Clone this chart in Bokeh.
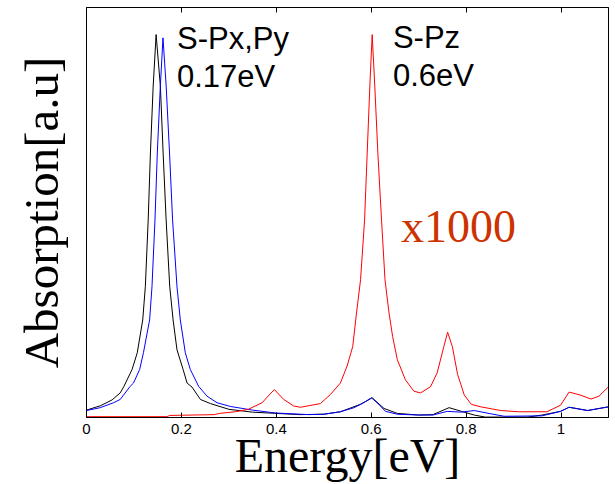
from bokeh.plotting import figure
from bokeh.models import Range1d, LinearAxis, FixedTicker, Label
from bokeh.embed import file_html
from bokeh.resources import INLINE

# ---- data ----
px_energy = [0.0, 0.03, 0.054, 0.071, 0.0785, 0.096, 0.107, 0.1185, 0.124, 0.130, 0.1347,
             0.1404, 0.1467, 0.1558, 0.1615, 0.1678, 0.1754, 0.1825, 0.1907, 0.2036, 0.212,
             0.2225, 0.24, 0.261, 0.30, 0.35, 0.40, 0.45, 0.50, 0.535, 0.577, 0.602, 0.627,
             0.655, 0.70, 0.73, 0.764, 0.79, 0.817, 0.84, 0.93, 0.96, 0.999, 1.017, 1.056, 1.10]
px_abs = [0.018, 0.029, 0.043, 0.060, 0.075, 0.117, 0.158, 0.238, 0.319, 0.482, 0.645,
          0.806, 0.934, 0.806, 0.645, 0.482, 0.319, 0.238, 0.165, 0.117, 0.084,
          0.074, 0.044, 0.034, 0.020, 0.013, 0.010, 0.007, 0.008, 0.014, 0.032, 0.048, 0.022,
          0.010, 0.006, 0.007, 0.024, 0.015, 0.006, 0.001, 0.001, 0.006, 0.015, 0.025, 0.017, 0.026]

py_energy = [0.0, 0.029, 0.057, 0.071, 0.092, 0.099, 0.112, 0.120, 0.133, 0.138, 0.1443,
             0.1492, 0.1555, 0.1612, 0.168, 0.175, 0.1814, 0.1907, 0.1977, 0.2082, 0.2188,
             0.2363, 0.254, 0.275, 0.303, 0.35, 0.398, 0.469, 0.50, 0.535, 0.564, 0.584, 0.6006,
             0.616, 0.630, 0.655, 0.70, 0.73, 0.760, 0.79, 0.817, 0.852, 0.88, 0.96, 0.999,
             1.017, 1.056, 1.10]
py_abs = [0.017, 0.024, 0.036, 0.044, 0.076, 0.084, 0.117, 0.158, 0.238, 0.319, 0.482,
          0.645, 0.806, 0.926, 0.806, 0.645, 0.482, 0.319, 0.238, 0.158, 0.117,
          0.076, 0.052, 0.036, 0.027, 0.018, 0.011, 0.007, 0.008, 0.014, 0.024, 0.036, 0.048,
          0.032, 0.015, 0.008, 0.006, 0.006, 0.015, 0.013, 0.017, 0.009, 0.003, 0.004, 0.015,
          0.025, 0.017, 0.026]

pz_energy = [0.0, 0.17, 0.175, 0.27, 0.28, 0.314, 0.341, 0.37, 0.385, 0.396, 0.4156, 0.4367,
             0.451, 0.493, 0.514, 0.535, 0.549, 0.561, 0.569, 0.5775, 0.586, 0.5915, 0.597,
             0.602, 0.6076, 0.614, 0.6217, 0.629, 0.6375, 0.645, 0.655, 0.672, 0.690, 0.704,
             0.725, 0.739, 0.753, 0.761, 0.771, 0.782, 0.796, 0.811, 0.831, 0.873, 0.91, 0.97,
             0.999, 1.017, 1.04, 1.063, 1.08, 1.10]
pz_abs_x1000 = [0.002, 0.002, 0.005, 0.007, 0.010, 0.014, 0.020, 0.036, 0.055, 0.068, 0.044, 0.028,
                0.025, 0.034, 0.056, 0.084, 0.125, 0.173, 0.255, 0.336, 0.482, 0.645, 0.806,
                0.934, 0.806, 0.645, 0.482, 0.336, 0.255, 0.198, 0.141, 0.092, 0.064, 0.060,
                0.075, 0.109, 0.173, 0.208, 0.173, 0.105, 0.055, 0.032, 0.026, 0.017, 0.014, 0.014,
                0.030, 0.062, 0.055, 0.045, 0.052, 0.075]

x_ticks = [0, 0.2, 0.4, 0.6, 0.8, 1.0]
x_tick_labels = ["0", "0.2", "0.4", "0.6", "0.8", "1"]

SANS = "Liberation Sans"
SERIF = "Liberation Serif"

p = figure(width=609, height=484, output_backend="svg", toolbar_location=None,
           x_range=Range1d(0, 1.1), y_range=Range1d(0, 1.0),
           min_border_left=86, min_border_right=1, min_border_top=7, min_border_bottom=66,
           x_axis_type=None, y_axis_type=None)
p.background_fill_color = "white"
p.border_fill_color = "white"
p.outline_line_color = "black"
p.outline_line_width = 1
p.xgrid.visible = False
p.ygrid.visible = False

overrides = {t: s for t, s in zip(x_ticks, x_tick_labels)}

xb = LinearAxis(ticker=FixedTicker(ticks=x_ticks), major_label_overrides=overrides)
xb.major_tick_in = 5
xb.major_tick_out = 0
xb.minor_tick_line_color = None
xb.axis_line_color = "black"
xb.major_tick_line_color = "black"
xb.major_label_text_font = SANS
xb.major_label_text_font_size = "15px"
xb.major_label_text_color = "black"
xb.major_label_standoff = 6
xb.axis_label = "Energy[eV]"
xb.axis_label_text_font = SERIF
xb.axis_label_text_font_size = "48px"
xb.axis_label_text_font_style = "normal"
xb.axis_label_text_color = "black"
xb.axis_label_standoff = -8
p.add_layout(xb, "below")

xt = LinearAxis(ticker=FixedTicker(ticks=x_ticks),
                major_label_overrides={t: "" for t in x_ticks})
xt.major_tick_in = 5
xt.major_tick_out = 0
xt.minor_tick_line_color = None
xt.axis_line_color = "black"
xt.major_label_text_font_size = "0px"
xt.major_label_standoff = 0
p.add_layout(xt, "above")

yl = LinearAxis(ticker=FixedTicker(ticks=[]))
yl.axis_line_color = None
yl.major_tick_line_color = None
yl.minor_tick_line_color = None
yl.major_label_text_font_size = "0px"
yl.major_label_standoff = 0
yl.axis_label = "Absorption[a.u]"
yl.axis_label_text_font = SERIF
yl.axis_label_text_font_size = "49px"
yl.axis_label_text_font_style = "normal"
yl.axis_label_text_color = "black"
yl.axis_label_standoff = 18
p.add_layout(yl, "left")

p.line(px_energy, px_abs, line_color="black", line_width=1)
p.line(py_energy, py_abs, line_color="blue", line_width=1)
p.line(pz_energy, pz_abs_x1000, line_color="red", line_width=1)

def lab(x, y, t, font, size, color="black"):
    p.add_layout(Label(x=x, y=y, text=t, text_font=font, text_font_size=size,
                       text_color=color, text_baseline="alphabetic"))

lab(0.1907, 0.925, "S-Px,Py", SANS, "31px")
lab(0.1907, 0.832, "0.17eV", SANS, "31px")
lab(0.6457, 0.927, "S-Pz", SANS, "31px")
lab(0.6457, 0.835, "0.6eV", SANS, "31px")
lab(0.663, 0.466, "x1000", SERIF, "46px", color="#cc3300")

open("out.html", "w").write(file_html(p, INLINE))
